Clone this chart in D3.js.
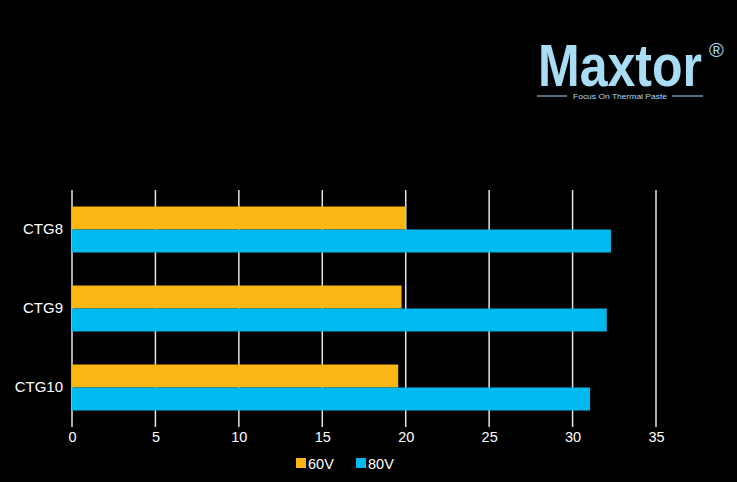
<!DOCTYPE html>
<html><head><meta charset="utf-8">
<script src="https://cdn.jsdelivr.net/npm/d3@7/dist/d3.min.js"></script>
<style>body{margin:0;background:#000;}svg{display:block;}</style>
</head><body>
<script>
const categories = ["CTG8", "CTG9", "CTG10"];
const seriesNames = ["60V", "80V"];
const values60V = [20.0, 19.75, 19.55];
const values80V = [32.3, 32.05, 31.05];
const xTicks = [0, 5, 10, 15, 20, 25, 30, 35];
const colors = ["#FDB714", "#00B9EF"];

const W = 737, H = 482;
const svg = d3.select("body").append("svg").attr("width", W).attr("height", H)
  .style("background", "#000");
svg.append("rect").attr("width", W).attr("height", H).attr("fill", "#000");

const x = d3.scaleLinear().domain([0, 35]).range([72, 656]);
const y0 = d3.scaleBand().domain(categories).range([190, 427]).paddingInner(0.418).paddingOuter(0.209);
const y1 = d3.scaleBand().domain(seriesNames).range([0, y0.bandwidth()]);

// gridlines
svg.append("g").selectAll("line").data(xTicks).join("line")
  .attr("x1", d => x(d)).attr("x2", d => x(d))
  .attr("y1", 190).attr("y2", 427)
  .attr("stroke", "#e6e6e6").attr("stroke-width", 1.5);

const data = categories.map((c, i) => ({cat: c, vals: [values60V[i], values80V[i]]}));
const g = svg.append("g").selectAll("g").data(data).join("g")
  .attr("transform", d => `translate(0,${y0(d.cat)})`);
g.selectAll("rect").data(d => d.vals.map((v, j) => ({s: seriesNames[j], v, j}))).join("rect")
  .attr("x", x(0)).attr("y", d => y1(d.s))
  .attr("width", d => x(d.v) - x(0)).attr("height", y1.bandwidth())
  .attr("fill", d => colors[d.j]);

// x axis
const xa = svg.append("g").attr("transform", "translate(0,427)")
  .call(d3.axisBottom(x).tickValues(xTicks).tickSize(0).tickPadding(5));
xa.select(".domain").remove();
xa.selectAll("text").attr("fill", "#fff").style("font-family", "Liberation Sans, Arial, sans-serif").style("font-size", "14.5px");

// y axis
const ya = svg.append("g").attr("transform", "translate(72,0)")
  .call(d3.axisLeft(y0).tickSize(0).tickPadding(9));
ya.select(".domain").remove();
ya.selectAll("text").attr("fill", "#fff").style("font-family", "Liberation Sans, Arial, sans-serif").style("font-size", "15px");

// legend
const leg = svg.append("g");
const legX = [296, 356];
seriesNames.forEach((s, i) => {
  leg.append("rect").attr("x", legX[i]).attr("y", 458).attr("width", 10).attr("height", 10).attr("fill", colors[i]);
  leg.append("text").attr("x", legX[i] + 12).attr("y", 469).text(s)
    .attr("fill", "#fff").style("font-family", "Liberation Sans, Arial, sans-serif").style("font-size", "14.5px");
});

// logo
const logo = svg.append("g");
logo.append("text").attr("x", 538).attr("y", 86).text("Maxtor")
  .attr("fill", "#A9DDF6").style("font-family", "Liberation Sans Narrow, Arial Narrow, sans-serif")
  .style("font-weight", "bold").style("font-size", "60px").attr("textLength", 164).attr("lengthAdjust", "spacingAndGlyphs");
logo.append("text").attr("x", 709).attr("y", 57).text("®")
  .attr("fill", "#A9DDF6").style("font-family", "Liberation Sans, Arial, sans-serif").style("font-size", "20px");
logo.append("text").attr("x", 573).attr("y", 98.5).text("Focus On Thermal Paste")
  .attr("textLength", 94).attr("lengthAdjust", "spacingAndGlyphs")
  .attr("fill", "#A9DDF6").style("font-family", "Liberation Sans, Arial, sans-serif").style("font-size", "8px");
logo.append("line").attr("x1", 537).attr("x2", 567).attr("y1", 96).attr("y2", 96).attr("stroke", "#A9DDF6").attr("stroke-width", 1);
logo.append("line").attr("x1", 672).attr("x2", 703).attr("y1", 96).attr("y2", 96).attr("stroke", "#A9DDF6").attr("stroke-width", 1);
</script>
</body></html>
